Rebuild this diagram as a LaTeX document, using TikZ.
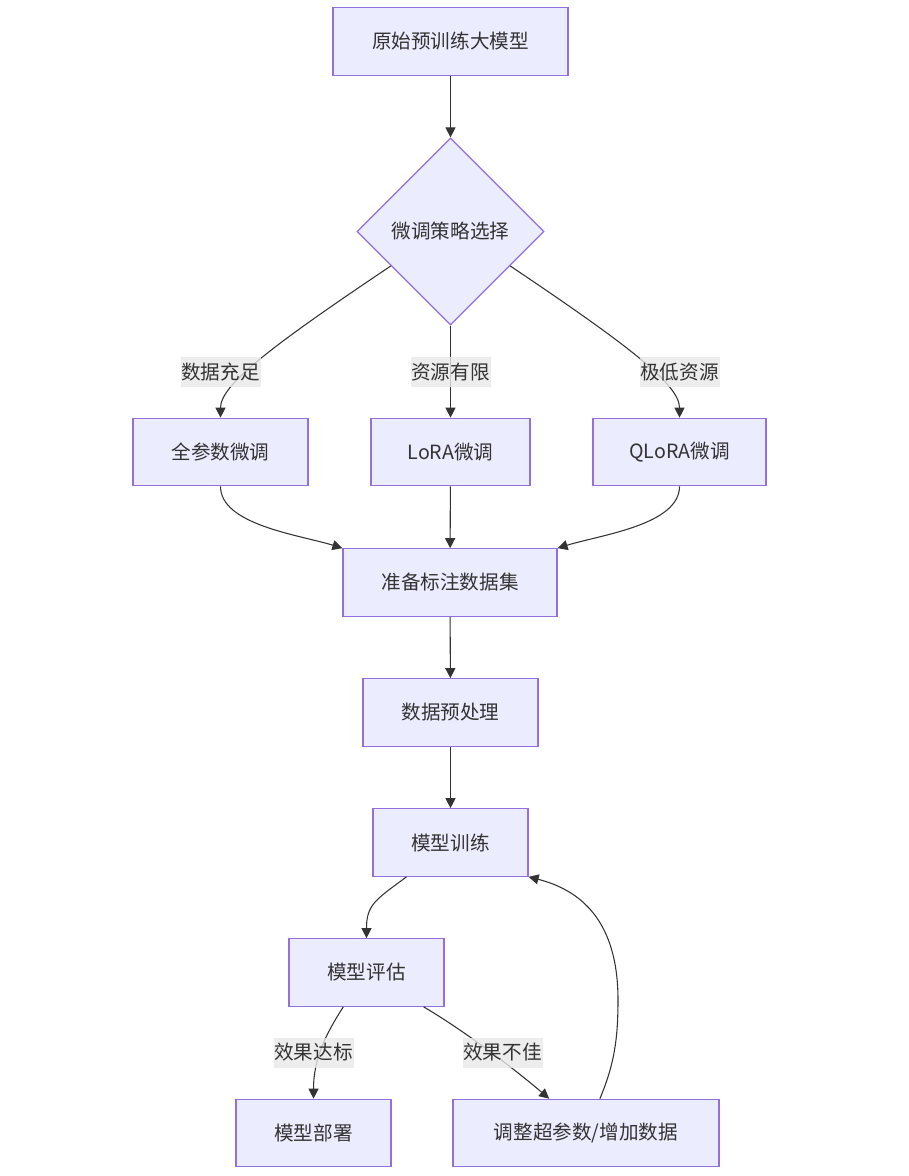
\documentclass[tikz,border=0pt]{standalone}
\usepackage{fontspec}
\setmainfont{Noto Sans CJK SC}
\usetikzlibrary{shapes.geometric,arrows.meta}
\definecolor{nodefill}{HTML}{ECECFF}
\definecolor{nodeline}{HTML}{9370DB}
\definecolor{ink}{HTML}{333333}
\definecolor{lblfill}{HTML}{E8E8E8}
\tikzset{
  box/.style={draw=nodeline,fill=nodefill,line width=0.9pt,minimum height=50.6pt,inner sep=0pt,text=ink},
  choice/.style={diamond,aspect=1,draw=nodeline,fill=nodefill,line width=0.9pt,minimum width=140.25pt,minimum height=140.25pt,inner sep=0pt,text=ink},
  lbl/.style={fill=lblfill,fill opacity=0.8,text opacity=1,text=ink,inner xsep=0.6pt,inner ysep=0pt,minimum height=22.5pt},
  arr/.style={draw=ink,line width=0.8pt,-{Triangle[length=7.5pt,width=7.5pt]}}
}
\begin{document}
\begin{tikzpicture}[x=0.75pt,y=-0.75pt,every node/.style={font=\fontsize{14.7pt}{17pt}\selectfont}]
\useasboundingbox (0,0) rectangle (908,1176);
\node[box,minimum width=176.25pt] (a) at (450.5,41.5) {原始预训练大模型};
\node[choice] (sel) at (450.5,231.5) {微调策略选择};
\node[box,minimum width=131.25pt] (b1) at (220.5,452) {全参数微调};
\node[box,minimum width=119.25pt] (b2) at (450.5,452) {LoRA微调};
\node[box,minimum width=129.75pt] (b3) at (679.5,452) {QLoRA微调};
\node[box,minimum width=160.5pt] (c) at (450,582.5) {准备标注数据集};
\node[box,minimum width=131.25pt] (d) at (450.5,712.5) {数据预处理};
\node[box,minimum width=116.25pt] (e) at (450.5,842.5) {模型训练};
\node[box,minimum width=116.25pt] (f) at (366.5,972.5) {模型评估};
\node[box,minimum width=116.25pt] (g) at (313.5,1133) {模型部署};
\node[box,minimum width=199.5pt] (h) at (586,1133) {调整超参数/增加数据};
\coordinate (hbk) at (618,1000);
\foreach \p/\q in {a/sel,sel/b2,b2/c,c/d,d/e}
  \draw[arr] (\p) -- (\q);
\draw[arr] (sel.210) .. controls (270,347) and (220.5,385) .. (b1);
\draw[arr] (sel.330) .. controls (631,347) and (679.5,385) .. (b3);
\draw[arr] (b1) .. controls (220.5,525) and (300,535) .. (c.north west);
\draw[arr] (b3) .. controls (679.5,525) and (600,535) .. (c.north east);
\draw[arr] (e.218) .. controls (375,900) and (366.5,905) .. (f);
\draw[arr] (f.236) .. controls (325,1035) and (313.5,1060) .. (g);
\draw[arr] (f.329) .. controls (473,1036) and (525,1078) .. (h.137);
\draw[arr] (h.68) .. controls (614,1065) and (618,1040) .. (hbk) .. controls (618,920) and (580,890) .. (e.south east);
\node[lbl] (t1) at (220.5,372) {数据充足};
\node[lbl] (t2) at (450.5,372) {资源有限};
\node[lbl] (t3) at (679.5,372) {极低资源};
\node[lbl] (t4) at (313.5,1052.5) {效果达标};
\node[lbl] (t5) at (502.5,1052.5) {效果不佳};
\end{tikzpicture}
\end{document}
